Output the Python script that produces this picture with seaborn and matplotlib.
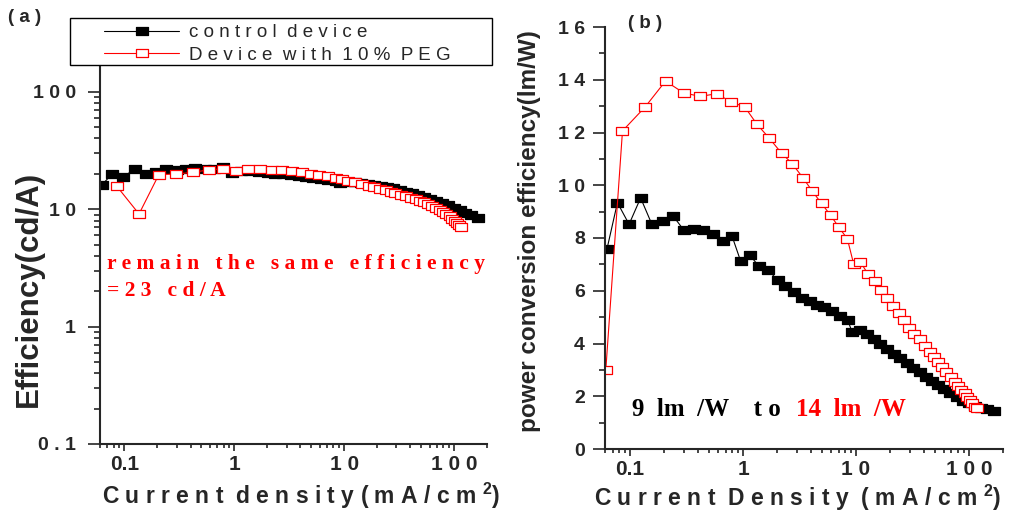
import numpy as np
import matplotlib
matplotlib.use("Agg")
import matplotlib.pyplot as plt
import seaborn as sns
from matplotlib.path import Path
from matplotlib.patches import Rectangle
from matplotlib.ticker import FixedLocator, FixedFormatter, LogLocator, NullFormatter, MultipleLocator

# control device: current density (mA/cm2), current eff. (cd/A), power eff. (lm/W)
x_ctrl = [0.0626, 0.0773, 0.098, 0.124, 0.156, 0.194, 0.241, 0.299, 0.367, 0.444,
          0.545, 0.660, 0.798, 0.953, 1.15, 1.38, 1.68, 2.02, 2.37, 2.80,
          3.32, 3.88, 4.51, 5.24, 6.13, 7.17, 8.43, 9.23, 10.8, 12.5,
          14.3, 16.4, 18.8, 21.5, 24.6, 28.1, 32.2, 36.8, 41.6, 47.1,
          53.3, 60.4, 68.6, 77.6, 87.8, 99.4, 112.5, 127, 144, 165]
ce_ctrl = [16.1, 20.0, 18.9, 21.9, 20.0, 20.9, 21.9, 21.4, 22.0, 22.4,
           22.2, 21.8, 23.0, 20.5, 21.3, 21.0, 20.8, 20.4, 20.1, 19.8,
           19.4, 19.1, 18.8, 18.5, 18.2, 17.8, 17.4, 16.8, 17.0, 16.9,
           16.7, 16.4, 16.1, 15.8, 15.5, 15.1, 14.6, 14.1, 13.7, 13.2,
           12.8, 12.3, 11.8, 11.3, 10.8, 10.3, 9.8, 9.3, 8.9, 8.4]
pe_ctrl = [7.60, 9.34, 8.52, 9.52, 8.52, 8.64, 8.83, 8.30, 8.36, 8.32,
           8.17, 7.88, 8.08, 7.12, 7.35, 6.93, 6.78, 6.40, 6.17, 5.96,
           5.71, 5.62, 5.45, 5.37, 5.23, 5.04, 4.89, 4.44, 4.53, 4.36,
           4.16, 3.98, 3.81, 3.62, 3.44, 3.27, 3.09, 2.93, 2.74, 2.59,
           2.42, 2.27, 2.11, 1.96, 1.83, 1.73, 1.64, 1.56, 1.50, 1.45]

# device with 10% PEG
x_peg = [0.061, 0.0857, 0.136, 0.206, 0.298, 0.418, 0.585, 0.783, 1.035, 1.33,
         1.71, 2.19, 2.72, 3.38, 4.10, 4.95, 5.96, 7.07, 8.38, 9.55,
         10.9, 12.7, 14.6, 16.7, 18.8, 21.3, 23.9, 26.5, 29.3, 32.9,
         36.7, 40.7, 45.1, 48.9, 53.1, 57.9, 63.2, 68.7, 74.6, 79.8,
         85.4, 91.3, 96.4, 101.7, 106.8, 112, 116.7]
ce_peg = [np.nan, 15.6, 9.1, 19.7, 19.9, 20.6, 21.6, 22.1, 21.1, 22.0,
          22.0, 21.6, 21.6, 21.1, 20.6, 20.1, 19.6, 19.0, 18.4, 17.9,
          17.4, 16.9, 16.3, 15.8, 15.3, 14.9, 14.5, 14.1, 13.7, 13.3,
          12.9, 12.5, 12.1, 11.8, 11.4, 11.0, 10.6, 10.3, 9.9, 9.5,
          9.1, 8.7, 8.3, 7.9, 7.6, 7.3, 7.1]
pe_peg = [3.0, 12.06, 12.97, 13.95, 13.5, 13.37, 13.47, 13.16, 12.97, 12.31,
          11.78, 11.22, 10.82, 10.29, 9.78, 9.31, 8.86, 8.40, 7.97, 7.0,
          7.1, 6.65, 6.38, 6.02, 5.72, 5.44, 5.17, 4.89, 4.58, 4.36,
          4.16, 3.9, 3.69, 3.5, 3.31, 3.12, 2.93, 2.74, 2.55, 2.39,
          2.23, 2.11, 1.98, 1.86, 1.73, 1.6, 1.56]

x_ticks = [0.1, 1, 10, 100]
x_ticklabels = ["0.1", "1", "1 0", "1 0 0"]
y1_ticks = [0.1, 1, 10, 100]
y1_ticklabels = ["0 . 1", "1", "1 0", "1 0 0"]
y2_ticks = [0, 2, 4, 6, 8, 10, 12, 14, 16]
y2_ticklabels = ["0", "2", "4", "6", "8", "1 0", "1 2", "1 4", "1 6"]
legend_labels = ["c o n t r o l  d e v i c e", "D e v i c e  w i t h  1 0 %  P E G"]

sns.set_style("ticks")
plt.rcParams['font.family'] = ['Liberation Sans', 'DejaVu Sans']
plt.rcParams['mathtext.fontset'] = 'custom'
plt.rcParams['mathtext.bf'] = 'Liberation Sans:bold'
plt.rcParams['mathtext.rm'] = 'Liberation Sans:bold'

W, H = 1027, 525
fig = plt.figure(figsize=(W / 100, H / 100), dpi=100)


def box(l, t, r, b):
    return [l / W, 1 - b / H, (r - l) / W, (b - t) / H]


ax1 = fig.add_axes(box(100, 65, 487, 444))
ax2 = fig.add_axes(box(605, 27, 1003, 449))

# squares look a bit wider than tall in the original
rect = Path([(-1, -0.66), (1, -0.66), (1, 0.66), (-1, 0.66), (-1, -0.66)],
            [Path.MOVETO, Path.LINETO, Path.LINETO, Path.LINETO, Path.CLOSEPOLY])
common = dict(sort=False, estimator=None, legend=False, lw=0.8, marker=rect,
              markersize=8.3, markeredgewidth=0.9)

for ax in (ax1, ax2):
    ax.set_xscale('log')
ax1.set_yscale('log')

sns.lineplot(x=x_ctrl, y=ce_ctrl, ax=ax1, color='black', mfc='black', mec='black', **common)
sns.lineplot(x=x_peg, y=ce_peg, ax=ax1, color='red', mfc='white', mec='red', **common)
sns.lineplot(x=x_ctrl, y=pe_ctrl, ax=ax2, color='black', mfc='black', mec='black', **common)
sns.lineplot(x=x_peg, y=pe_peg, ax=ax2, color='red', mfc='white', mec='red', **common)

ax1.set_xlim(0.06, 200)
ax1.set_ylim(0.1, 169)
ax2.set_xlim(0.06, 200)
ax2.set_ylim(0, 16)

for ax in (ax1, ax2):
    ax.xaxis.set_major_locator(FixedLocator(x_ticks))
    ax.xaxis.set_major_formatter(FixedFormatter(x_ticklabels))
    ax.xaxis.set_minor_locator(LogLocator(base=10, subs=np.arange(2, 10)))
    ax.xaxis.set_minor_formatter(NullFormatter())
    for s in ('top', 'right'):
        ax.spines[s].set_visible(False)
    for s in ('left', 'bottom'):
        ax.spines[s].set_linewidth(1.5)
    ax.tick_params(axis='x', which='major', length=5, width=1.2, labelsize=15, pad=3)
    ax.tick_params(axis='x', which='minor', length=3, width=1.2)
    for lab in ax.get_xticklabels():
        lab.set_fontweight('bold')

ax1.yaxis.set_major_locator(FixedLocator(y1_ticks))
ax1.yaxis.set_major_formatter(FixedFormatter(y1_ticklabels))
ax1.yaxis.set_minor_locator(LogLocator(base=10, subs=np.arange(2, 10)))
ax1.yaxis.set_minor_formatter(NullFormatter())
ax1.tick_params(axis='y', which='major', length=8.5, width=1.2, labelsize=14, pad=9)
ax1.tick_params(axis='y', which='minor', length=4.5, width=1.2)

ax2.yaxis.set_major_locator(FixedLocator(y2_ticks))
ax2.yaxis.set_major_formatter(FixedFormatter(y2_ticklabels))
ax2.yaxis.set_minor_locator(MultipleLocator(1))
ax2.tick_params(axis='y', which='major', length=8.5, width=1.2, labelsize=14, pad=6)
ax2.tick_params(axis='y', which='minor', length=4.5, width=1.2)

for ax in (ax1, ax2):
    for lab in ax.get_yticklabels():
        lab.set_fontweight('bold')

ax1.set_ylabel("Efficiency(cd/A)", fontsize=22.5, fontweight='bold')
ax1.yaxis.set_label_coords(-0.145, 0.41)
ax2.set_ylabel("power conversion efficiency(lm/W)", fontsize=17.5, fontweight='bold')
ax2.yaxis.set_label_coords(-0.161, 0.517)

narrow = ['Liberation Sans Narrow', 'Liberation Sans', 'DejaVu Sans']
ax1.set_xlabel(r"C u r r e n t  d e n s i t y ( m A / c m $^{\mathbf{2}}$)",
               fontsize=16.5, fontweight='bold', family=narrow)
ax1.xaxis.set_label_coords(0.521, -0.097)
ax2.set_xlabel(r"C u r r e n t  D e n s i t y  ( m A / c m $^{\mathbf{2}}$)",
               fontsize=16.5, fontweight='bold', family=narrow)
ax2.xaxis.set_label_coords(0.484, -0.08)

# legend box spans past the left axis
fig.patches.append(Rectangle((70 / W, 1 - 65 / H), 422 / W, 47 / H, transform=fig.transFigure,
                             facecolor='white', edgecolor='black', lw=1.0, zorder=2))
fig.legend(handles=[ax1.lines[0], ax1.lines[1]], labels=legend_labels, loc='upper left',
           bbox_to_anchor=(104 / W, 1 - 24 / H), frameon=False, fontsize=13.5,
           handlelength=4.0, handletextpad=0.55, borderpad=0, borderaxespad=0,
           labelspacing=0.3, numpoints=1)

fig.text(25 / W, 1 - 18 / H, "( a )", fontsize=13.5, fontweight='bold', ha='center', va='center')
fig.text(645 / W, 1 - 24 / H, "( b )", fontsize=13.5, fontweight='bold', ha='center', va='center')

serif = ['Liberation Serif', 'DejaVu Serif']
fig.text(107 / W, 1 - 264 / H, "r e m a i n   t h e   s a m e   e f f i c i e n c y",
         color='red', fontsize=15.5, fontweight='bold', family=serif, ha='left', va='center')
fig.text(107 / W, 1 - 291 / H, "= 2 3   c d / A",
         color='red', fontsize=15.5, fontweight='bold', family=serif, ha='left', va='center')
fig.text(632 / W, 1 - 410 / H, "9  lm  /W    t o",
         color='black', fontsize=18, fontweight='bold', family=serif, ha='left', va='center')
fig.text(796 / W, 1 - 410 / H, "14  lm  /W",
         color='red', fontsize=18, fontweight='bold', family=serif, ha='left', va='center')

fig.savefig("out.png", dpi=100)
